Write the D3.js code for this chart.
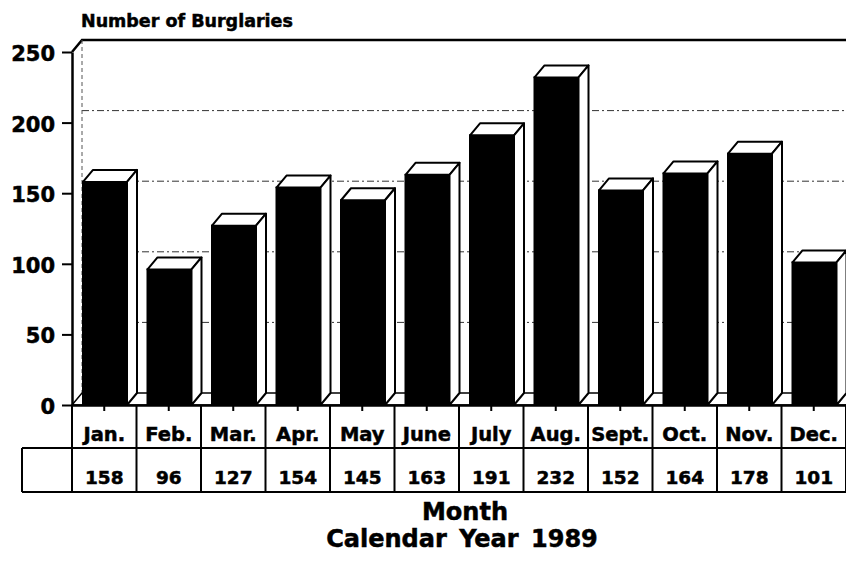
<!DOCTYPE html>
<html>
<head>
<meta charset="utf-8">
<script src="https://cdn.jsdelivr.net/npm/d3@7"></script>
<style>
  body { margin: 0; background: #fff; }
  svg { display: block; font-family: "DejaVu Sans", sans-serif; font-weight: bold; }
  svg text { stroke: #000; stroke-width: 0.5px; }
</style>
</head>
<body>
<svg id="chart" width="846" height="566"></svg>
<script>
const months = ["Jan.", "Feb.", "Mar.", "Apr.", "May", "June", "July", "Aug.", "Sept.", "Oct.", "Nov.", "Dec."];
const burglaries = [158, 96, 127, 154, 145, 163, 191, 232, 152, 164, 178, 101];
const yTicks = [0, 50, 100, 150, 200, 250];
const yTitle = "Number of Burglaries";
const xTitle = ["Month", "Calendar Year 1989"];

const width = 846;
const height = 566;
const left = 72;
const depthX = 10;
const depthY = 12;
const rowMid = 448;
const rowBottom = 492;

const svg = d3.select("#chart");

const x = d3.scaleBand()
  .domain(months)
  .range([left, width])
  .padding(0);

const y = d3.scaleLinear()
  .domain([0, 250])
  .range([405, 52]);

const y0 = y(0);
const yTop = y(250);

// floor
svg.append("path")
  .attr("d", `M${left},${y0} L${left + depthX},${y0 - depthY} L${width + depthX},${y0 - depthY} L${width},${y0} Z`)
  .attr("fill", "#fff")
  .attr("stroke", "#000")
  .attr("stroke-width", 1.5);

// back wall gridlines
svg.append("g")
  .selectAll("line")
  .data(yTicks.filter((d) => d > 0 && d < 250))
  .join("line")
  .attr("x1", left + depthX)
  .attr("x2", width)
  .attr("y1", (d) => y(d) - depthY)
  .attr("y2", (d) => y(d) - depthY)
  .attr("stroke", "#333")
  .attr("stroke-width", 1)
  .attr("stroke-dasharray", "7,3,2,3");

// back wall top + left edge
svg.append("path")
  .attr("d", `M${left},${yTop} L${left + depthX},${yTop - depthY} L${width},${yTop - depthY}`)
  .attr("fill", "none")
  .attr("stroke", "#000")
  .attr("stroke-width", 2.5);

svg.append("line")
  .attr("x1", left + depthX).attr("x2", left + depthX)
  .attr("y1", yTop - depthY).attr("y2", y0 - depthY)
  .attr("stroke", "#555")
  .attr("stroke-width", 1)
  .attr("stroke-dasharray", "4,3");

// bars
const bw = 44;
const inset = 11;
const bars = svg.append("g")
  .selectAll("g")
  .data(months.map((m, i) => ({ month: m, value: burglaries[i] })))
  .join("g");

bars.append("rect")
  .attr("x", (d) => x(d.month) + inset)
  .attr("y", (d) => y(d.value))
  .attr("width", bw)
  .attr("height", (d) => y0 - y(d.value))
  .attr("fill", "#000")
  .attr("stroke", "#000")
  .attr("stroke-width", 2);

bars.append("path")
  .attr("d", (d) => {
    const x0 = x(d.month) + inset, x1 = x0 + bw, t = y(d.value);
    return `M${x0},${t} L${x0 + depthX},${t - depthY} L${x1 + depthX},${t - depthY} L${x1},${t} Z`;
  })
  .attr("fill", "#fff")
  .attr("stroke", "#000")
  .attr("stroke-width", 2)
  .attr("stroke-linejoin", "round");

bars.append("path")
  .attr("d", (d) => {
    const x1 = x(d.month) + inset + bw, t = y(d.value);
    return `M${x1},${t} L${x1 + depthX},${t - depthY} L${x1 + depthX},${y0 - depthY} L${x1},${y0} Z`;
  })
  .attr("fill", "#fff")
  .attr("stroke", "#000")
  .attr("stroke-width", 2)
  .attr("stroke-linejoin", "round");

// y axis
const yAxis = svg.append("g")
  .attr("transform", `translate(${left},0)`)
  .call(d3.axisLeft(y).tickValues(yTicks).tickSize(10).tickSizeOuter(0).tickPadding(7));

yAxis.select(".domain").attr("stroke-width", 2.5);
yAxis.selectAll(".tick line").attr("stroke-width", 2);
yAxis.selectAll("text")
  .attr("fill", "#000")
  .style("font-size", "21px")
  .style("font-family", "DejaVu Sans, sans-serif")
  .style("font-weight", "bold")
  .attr("dy", "0.4em");

// x axis (month row)
const xAxis = svg.append("g")
  .attr("transform", `translate(0,${y0})`)
  .call(d3.axisBottom(x).tickSize(6).tickSizeOuter(0));

xAxis.select(".domain").attr("stroke-width", 2.5);
xAxis.selectAll(".tick line").attr("stroke-width", 2);
xAxis.selectAll("text")
  .attr("fill", "#000")
  .attr("y", 36)
  .attr("dy", null)
  .style("font-size", "19.5px")
  .style("font-family", "DejaVu Sans, sans-serif")
  .style("font-weight", "bold");

// table grid
const grid = svg.append("g").attr("stroke", "#000").attr("stroke-width", 2);

grid.append("line")
  .attr("x1", left).attr("x2", left)
  .attr("y1", y0).attr("y2", rowBottom);

grid.selectAll(".col")
  .data(months)
  .join("line")
  .attr("class", "col")
  .attr("x1", (d) => x(d) + x.bandwidth())
  .attr("x2", (d) => x(d) + x.bandwidth())
  .attr("y1", y0)
  .attr("y2", rowBottom);

grid.append("line")
  .attr("x1", 22).attr("x2", width)
  .attr("y1", rowMid).attr("y2", rowMid);

grid.append("line")
  .attr("x1", 22).attr("x2", width)
  .attr("y1", rowBottom).attr("y2", rowBottom);

grid.append("line")
  .attr("x1", 22).attr("x2", 22)
  .attr("y1", rowMid).attr("y2", rowBottom);

// value row
svg.append("g")
  .selectAll("text")
  .data(months.map((m, i) => ({ month: m, value: burglaries[i] })))
  .join("text")
  .attr("x", (d) => x(d.month) + x.bandwidth() / 2)
  .attr("y", 484)
  .attr("text-anchor", "middle")
  .style("font-size", "18.5px")
  .text((d) => d.value);

// titles
svg.append("text")
  .attr("x", 81)
  .attr("y", 27)
  .style("font-size", "17.5px")
  .text(yTitle);

svg.append("text")
  .attr("x", 465)
  .attr("y", 520)
  .attr("text-anchor", "middle")
  .style("font-size", "24px")
  .text(xTitle[0]);

svg.append("text")
  .attr("x", 462)
  .attr("y", 547)
  .attr("text-anchor", "middle")
  .style("font-size", "24px")
  .style("word-spacing", "4px")
  .text(xTitle[1]);
</script>
</body>
</html>
